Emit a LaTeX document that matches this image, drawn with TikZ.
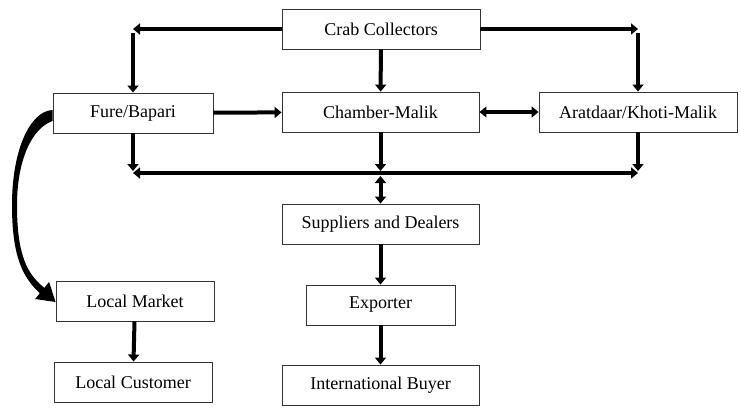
\documentclass[tikz,border=0pt]{standalone}
\usepackage{fontspec}
\setmainfont{Liberation Serif}
\usetikzlibrary{arrows.meta,calc}

\begin{document}
\begin{tikzpicture}[x=1pt,y=-1pt,
  stage/.style={draw=black!80,line width=0.9pt,minimum height=40pt,inner sep=0pt,font=\fontsize{18}{20}\selectfont},
  flow/.style={line width=4pt,-{Triangle[width=11pt,length=7pt]}},
  flowboth/.style={line width=4pt,{Triangle[width=11pt,length=7pt]}-{Triangle[width=11pt,length=7pt]}}]
\useasboundingbox (0,0) rectangle (741,410);
%
\node[stage,minimum width=198pt](crab) at (381,29){Crab Collectors};
\node[stage,minimum width=160pt](fure) at (133,113){Fure/Bapari};
\node[stage,minimum width=197pt](chamber) at (380.5,112){Chamber-Malik};
\node[stage,minimum width=198pt](aratdaar) at (638,112){Aratdaar/Khoti-Malik};
\node[stage,minimum width=197pt](suppliers) at (380.5,224){Suppliers and Dealers};
\node[stage,minimum width=149pt](exporter) at (380.5,305){Exporter};
\node[stage,minimum width=197pt](buyer) at (380.5,385){International Buyer};
\node[stage,minimum width=158pt](market) at (135,301){Local Market};
\node[stage,minimum width=158pt](customer) at (133,382){Local Customer};
%
\coordinate(cL) at (fure|-crab.west);
\coordinate(cR) at (aratdaar|-crab.east);
\coordinate(busL) at (fure|-0,173);
\coordinate(busR) at (aratdaar|-0,173);
%
\draw[flow](crab.west)--(cL);
\draw[flow](crab.east)--(cR);
\draw[flow]([yshift=-4pt]cL)--(fure);
\draw[flow]([yshift=-4pt]cR)--(aratdaar);
\draw[flow](crab)--(chamber);
\draw[flow](fure)--(chamber);
\draw[flowboth](chamber)--(aratdaar);
\draw[flowboth](busL)--(busR);
\draw[flow](fure)--([yshift=2pt]busL);
\draw[flow](chamber)--([yshift=2pt]chamber|-busL);
\draw[flow](aratdaar)--([yshift=2pt]busR);
\draw[flowboth]([yshift=-3pt]chamber|-busL)--(suppliers);
\draw[flow](suppliers)--(exporter);
\draw[flow](exporter)--(buyer);
\draw[flow](market)--(customer);
%
\coordinate(Mtip) at ($(market.west)+(0,1)$);
\fill($(fure.west)+(0,-3)$) .. controls (30,111) and (12,150) .. (12,205)
  .. controls (12,255) and (22,277) .. (39.9,293.2)--(35.1,299)--(Mtip)
  --(49.1,282)--(44.3,287.8) .. controls (27,274) and (17,255) .. (17,205)
  .. controls (17,160) and (32,128) .. ($(fure.west)+(0,8)$)--cycle;
\end{tikzpicture}
\end{document}
